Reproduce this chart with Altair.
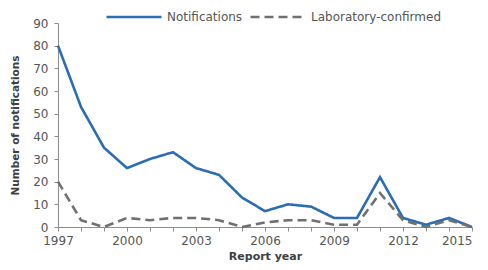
import altair as alt
import pandas as pd

years = list(range(1997, 2016))
notifications = [80, 53, 35, 26, 30, 33, 26, 23, 13, 7, 10, 9, 4, 4, 22, 4, 1, 4, 0]
lab_confirmed = [20, 3, 0, 4, 3, 4, 4, 3, 0, 2, 3, 3, 1, 1, 15, 3, 0, 3, 0]
series_names = ["Notifications", "Laboratory-confirmed"]
series_colors = ["#2b6cb3", "#707070"]
series_dashes = [[1, 0], [9, 5]]
y_ticks = list(range(0, 91, 10))

rows = []
for name, vals in zip(series_names, [notifications, lab_confirmed]):
    for yr, v in zip(years, vals):
        rows.append({"year": yr, "value": v, "series": name})
df = pd.DataFrame(rows)

FONT = "DejaVu Sans"

chart = alt.Chart(df).mark_line(strokeWidth=2.6, strokeCap="butt").encode(
    x=alt.X("year:Q",
            scale=alt.Scale(domain=[1997, 2015], nice=False, zero=False),
            axis=alt.Axis(values=years, format="d",
                          labelExpr="(datum.value - 1997) % 3 == 0 ? datum.label : ''",
                          labelAlign=alt.condition("datum.value == 2015",
                                                   alt.value("right"), alt.value("center")),
                          title="Report year", grid=False,
                          tickSize=4, labelPadding=4, titlePadding=4,
                          domainColor="#8c8c8c", tickColor="#8c8c8c",
                          labelColor="#555555", labelFont=FONT, labelFontSize=12,
                          titleColor="#404040", titleFont=FONT, titleFontSize=11,
                          titleFontWeight="bold", labelFlush=False)),
    y=alt.Y("value:Q",
            scale=alt.Scale(domain=[0, 90], nice=False),
            axis=alt.Axis(values=y_ticks, title="Number of notifications", grid=False,
                          tickSize=4, labelPadding=6, titlePadding=12,
                          domainColor="#8c8c8c", tickColor="#8c8c8c",
                          labelColor="#555555", labelFont=FONT, labelFontSize=12,
                          titleColor="#404040", titleFont=FONT, titleFontSize=10.5,
                          titleFontWeight="bold")),
    color=alt.Color("series:N",
                    scale=alt.Scale(domain=series_names, range=series_colors),
                    legend=alt.Legend(title=None, orient="none", direction="horizontal",
                                      legendX=47, legendY=-35,
                                      symbolType="stroke", symbolSize=3025,
                                      symbolStrokeWidth=2.6, labelOffset=4,
                                      columnPadding=2,
                                      labelFont=FONT, labelFontSize=12,
                                      labelColor="#555555")),
    strokeDash=alt.StrokeDash("series:N",
                              scale=alt.Scale(domain=series_names, range=series_dashes),
                              legend=None),
).properties(
    width=414, height=204,
    autosize=alt.AutoSizeParams(type="none"),
    padding={"left": 50, "top": 15, "right": 8, "bottom": 35},
).configure_view(stroke=None)

chart.save("out.html", embed_options={"renderer": "svg", "actions": False})
